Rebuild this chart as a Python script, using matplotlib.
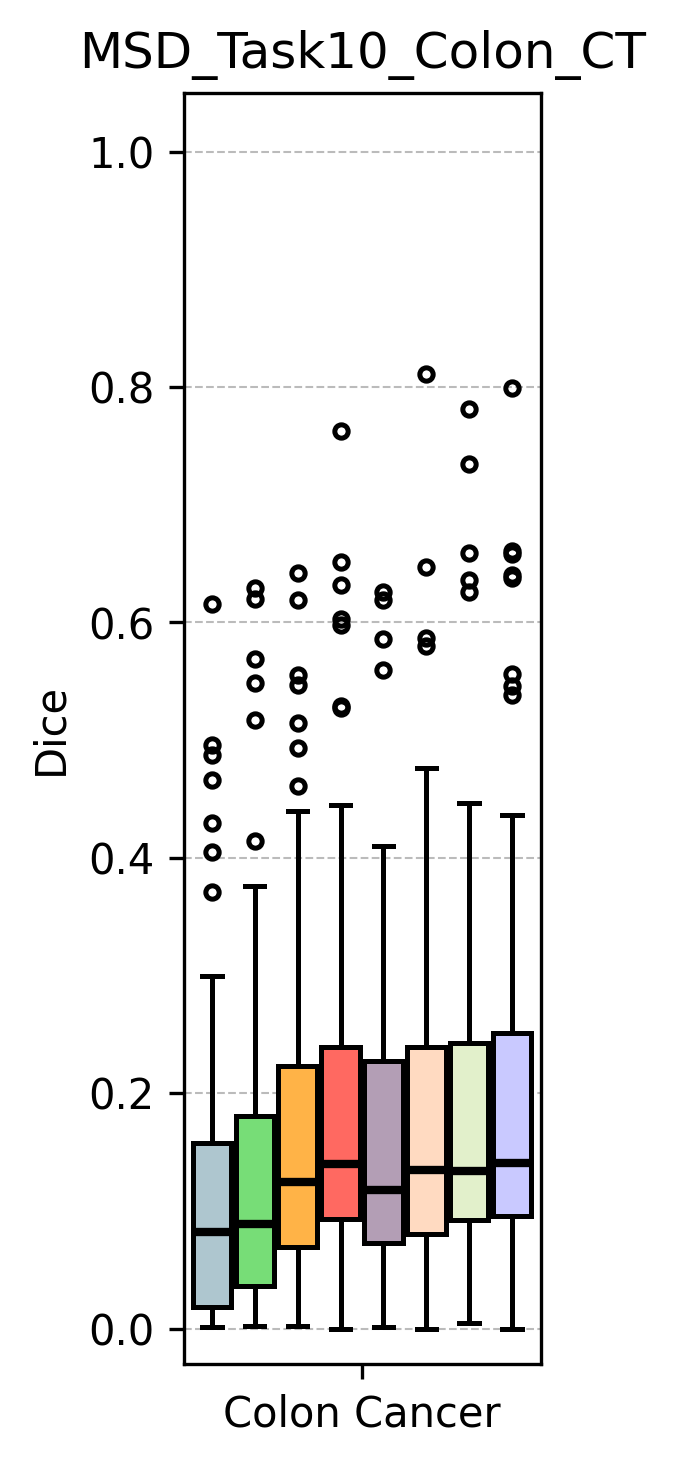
import numpy as np
import matplotlib
matplotlib.use("Agg")
import matplotlib.pyplot as plt

# box statistics (Dice per model, one task)
q1 = [0.018, 0.036, 0.069, 0.093, 0.073, 0.080, 0.092, 0.096]
med = [0.082, 0.089, 0.125, 0.140, 0.118, 0.135, 0.134, 0.141]
q3 = [0.158, 0.181, 0.223, 0.239, 0.227, 0.239, 0.243, 0.251]
whislo = [0.001, 0.002, 0.002, 0.000, 0.001, 0.000, 0.005, 0.000]
whishi = [0.300, 0.376, 0.440, 0.445, 0.410, 0.476, 0.447, 0.436]
fliers = [
    [0.616, 0.496, 0.487, 0.466, 0.430, 0.405, 0.371],
    [0.629, 0.620, 0.569, 0.549, 0.517, 0.414],
    [0.642, 0.619, 0.555, 0.547, 0.515, 0.493, 0.461],
    [0.763, 0.651, 0.632, 0.603, 0.598, 0.529, 0.527],
    [0.626, 0.619, 0.586, 0.560],
    [0.811, 0.647, 0.587, 0.580],
    [0.781, 0.735, 0.659, 0.636, 0.626],
    [0.799, 0.661, 0.658, 0.640, 0.638, 0.556, 0.546, 0.538],
]
colors = ["#AEC6CF", "#77DD77", "#FFB347", "#FF6961",
          "#B39EB5", "#FFDAC1", "#E2F0CB", "#C9C9FF"]
group_label = "Colon Cancer"
title = "MSD_Task10_Colon_CT"

stats = []
for i in range(len(med)):
    stats.append({"q1": q1[i], "med": med[i], "q3": q3[i],
                  "whislo": whislo[i], "whishi": whishi[i],
                  "fliers": fliers[i]})

fig = plt.figure(figsize=(2.25, 4.887), dpi=300)
ax = fig.add_axes([0.2726, 0.0696, 0.5289, 0.867])

positions = np.arange(len(stats))
bp = ax.bxp(stats, positions=positions, widths=0.9, patch_artist=True,
            boxprops=dict(linewidth=1.2, edgecolor="black"),
            medianprops=dict(color="black", linewidth=2.0),
            whiskerprops=dict(linewidth=1.2),
            capprops=dict(linewidth=1.2),
            flierprops=dict(marker="o", markersize=3.2, markerfacecolor="none",
                            markeredgecolor="black", markeredgewidth=1.2))
for patch, c in zip(bp["boxes"], colors):
    patch.set_facecolor(c)

ax.set_xlim(-0.653, 7.677)
ax.set_ylim(-0.03, 1.05)
ax.set_xticks([3.5])
ax.set_xticklabels([group_label], fontsize=10)
ax.set_yticks([0.0, 0.2, 0.4, 0.6, 0.8, 1.0])
ax.tick_params(axis="y", labelsize=10)
ax.yaxis.grid(True, linestyle="--", linewidth=0.5, color="#bbbbbb")
ax.set_axisbelow(True)
ax.set_ylabel("Dice", fontsize=10)
ax.set_title(title, fontsize=12)

plt.savefig("out.png", dpi=300)
plt.close()
